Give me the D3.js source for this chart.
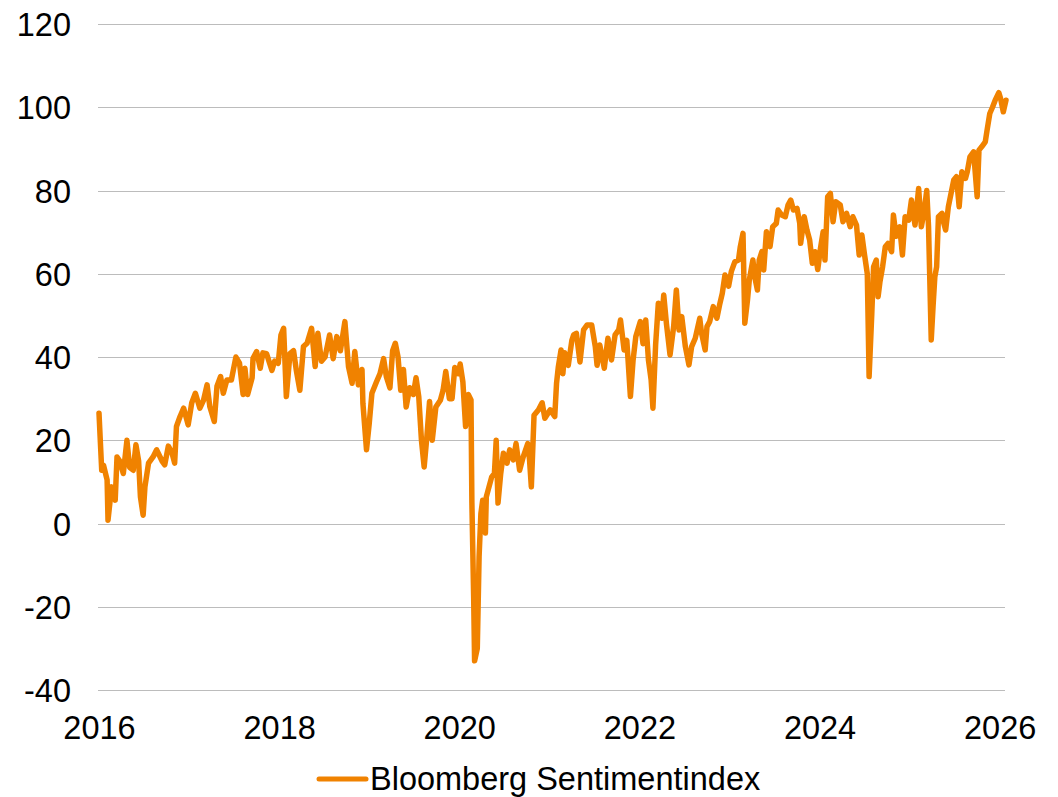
<!DOCTYPE html>
<html>
<head>
<meta charset="utf-8">
<script src="https://cdn.jsdelivr.net/npm/d3@7"></script>
<style>
  html, body { margin: 0; padding: 0; background: #fff; }
  svg { display: block; }
  text { font-family: "Liberation Sans", Arial, sans-serif; fill: #000; }
</style>
</head>
<body>
<svg id="chart" width="1058" height="797"></svg>
<script>
// Decimal-year dates and index values
const dates = [
  2016.00,2016.03,2016.05,2016.09,2016.10,2016.14,2016.18,2016.20,2016.23,2016.27,
  2016.31,2016.34,2016.38,2016.41,2016.44,2016.46,2016.49,2016.51,2016.55,2016.60,
  2016.64,2016.70,2016.73,2016.77,2016.81,2016.84,2016.86,2016.90,2016.94,2016.99,
  2017.03,2017.07,2017.12,2017.16,2017.20,2017.23,2017.28,2017.31,2017.35,2017.38,
  2017.42,2017.47,2017.52,2017.56,2017.60,2017.62,2017.65,2017.70,2017.71,2017.75,
  2017.79,2017.82,2017.86,2017.92,2017.95,2017.99,2018.02,2018.05,2018.08,2018.12,
  2018.16,2018.19,2018.23,2018.27,2018.31,2018.36,2018.40,2018.43,2018.47,2018.51,
  2018.56,2018.60,2018.64,2018.68,2018.73,2018.77,2018.81,2018.84,2018.88,2018.92,
  2018.93,2018.97,2019.00,2019.03,2019.08,2019.12,2019.16,2019.19,2019.23,2019.26,
  2019.29,2019.32,2019.35,2019.38,2019.41,2019.45,2019.49,2019.52,2019.55,2019.58,
  2019.61,2019.64,2019.67,2019.70,2019.74,2019.79,2019.82,2019.85,2019.89,2019.92,
  2019.95,2019.99,2020.01,2020.04,2020.07,2020.10,2020.13,2020.14,2020.16,2020.17,
  2020.20,2020.22,2020.24,2020.26,2020.29,2020.30,2020.33,2020.36,2020.39,2020.41,
  2020.43,2020.46,2020.49,2020.53,2020.56,2020.60,2020.63,2020.67,2020.71,2020.76,
  2020.78,2020.80,2020.83,2020.88,2020.92,2020.95,2021.01,2021.06,2021.08,2021.10,
  2021.13,2021.15,2021.17,2021.21,2021.25,2021.27,2021.30,2021.34,2021.38,2021.42,
  2021.47,2021.51,2021.53,2021.56,2021.61,2021.65,2021.69,2021.73,2021.77,2021.79,
  2021.83,2021.86,2021.90,2021.93,2021.96,2022.01,2022.04,2022.07,2022.10,2022.13,
  2022.15,2022.18,2022.21,2022.25,2022.27,2022.30,2022.34,2022.38,2022.41,2022.44,
  2022.47,2022.51,2022.55,2022.58,2022.62,2022.67,2022.69,2022.73,2022.75,2022.78,
  2022.82,2022.86,2022.89,2022.92,2022.95,2022.99,2023.02,2023.06,2023.10,2023.12,
  2023.15,2023.17,2023.20,2023.22,2023.26,2023.28,2023.31,2023.33,2023.36,2023.38,
  2023.41,2023.45,2023.48,2023.52,2023.54,2023.58,2023.62,2023.65,2023.68,2023.71,
  2023.75,2023.78,2023.79,2023.83,2023.86,2023.89,2023.92,2023.95,2023.98,2024.01,
  2024.04,2024.06,2024.09,2024.12,2024.15,2024.18,2024.23,2024.26,2024.30,2024.34,
  2024.37,2024.41,2024.44,2024.47,2024.50,2024.53,2024.55,2024.58,2024.60,2024.63,
  2024.65,2024.67,2024.70,2024.73,2024.76,2024.80,2024.82,2024.85,2024.89,2024.92,
  2024.95,2024.99,2025.02,2025.06,2025.10,2025.13,2025.16,2025.19,2025.21,2025.24,
  2025.26,2025.28,2025.30,2025.32,2025.36,2025.37,2025.40,2025.43,2025.46,2025.49,
  2025.52,2025.55,2025.58,2025.62,2025.64,2025.67,2025.71,2025.75,2025.77,2025.80,
  2025.84,2025.86,2025.89,2025.92,2025.95,2025.99,2026.01,2026.04,2026.07
];
const sentiment = [
  26.5,12.8,14.0,10.5,0.8,8.8,5.6,16.0,15.0,12.0,
  20.0,13.5,12.8,18.9,15.0,6.4,2.0,8.8,14.5,16.0,
  17.7,15.0,14.1,18.6,17.0,14.5,23.3,25.7,27.7,23.7,
  29.0,31.3,27.7,29.6,33.3,28.1,24.5,33.0,35.3,31.3,
  34.5,34.5,40.0,38.5,31.0,37.3,31.0,35.0,39.7,41.3,
  37.3,41.0,40.8,36.8,39.0,38.5,45.3,46.9,30.5,40.8,
  41.5,36.9,32.0,42.5,43.3,46.9,37.7,45.7,39.0,40.0,
  45.3,39.6,44.9,41.5,48.5,37.7,33.7,41.3,33.3,37.0,
  28.9,17.7,24.0,31.3,34.0,36.0,39.6,35.3,32.6,41.5,
  43.3,40.0,32.0,37.0,28.0,32.6,31.0,35.0,30.5,20.0,
  13.6,20.8,29.3,20.0,28.0,29.6,32.0,36.5,30.0,30.0,
  37.5,36.0,38.3,34.0,23.3,31.0,29.7,5.0,-18.0,-33.0,
  -30.0,-8.0,2.4,5.6,-2.3,6.4,8.8,11.2,12.0,20.0,
  4.9,12.0,16.9,14.5,17.7,15.3,19.2,12.8,16.0,19.2,
  15.3,8.8,26.0,27.3,29.0,25.3,27.3,25.7,33.7,37.7,
  41.7,36.0,41.0,38.0,44.0,45.3,45.7,38.8,46.5,47.7,
  47.7,42.5,38.0,42.9,37.3,44.5,39.3,45.3,46.5,48.9,
  41.7,44.0,30.5,39.3,44.9,48.5,43.2,48.9,39.3,34.5,
  27.7,43.0,52.9,49.3,54.9,48.0,40.5,47.3,56.1,46.5,
  49.7,42.5,38.1,42.5,44.5,49.3,45.7,41.7,47.3,48.5,
  52.1,49.3,52.5,55.3,59.7,57.0,60.5,62.9,63.3,66.5,
  69.7,48.1,53.7,58.5,63.3,59.3,56.1,63.3,65.3,60.9,
  70.1,66.5,71.3,72.1,75.3,74.1,73.7,76.5,77.7,75.3,
  75.7,72.1,67.3,73.7,70.5,68.1,62.5,65.3,61.0,66.1,
  70.1,63.3,78.5,79.3,72.5,77.3,76.5,72.5,74.5,71.3,
  73.7,71.7,64.5,69.3,64.5,60.0,35.3,50.5,61.7,63.3,
  54.5,58.0,61.7,66.5,67.3,65.3,74.1,69.0,71.3,64.5,
  73.7,72.9,77.7,71.7,80.5,71.3,74.9,80.0,71.3,44.1,
  52.1,59.3,61.7,73.7,74.5,72.9,70.5,76.1,79.3,82.5,
  83.3,76.1,84.5,82.9,84.5,88.1,89.3,78.5,89.7,90.5,
  91.7,94.5,98.5,100.0,101.7,103.5,102.1,98.9,101.7
];
const yTicks = [-40, -20, 0, 20, 40, 60, 80, 100, 120];
const xTicks = [2016, 2018, 2020, 2022, 2024, 2026];
const seriesName = "Bloomberg Sentimentindex";

(function () {
  const data = dates.map((d, i) => ({ t: d, v: sentiment[i] }));

  const svg = d3.select("#chart");
  const mLeft = 99, mRight = 1006, mTop = 24, mBottom = 690;
  const orange = "#F08200";
  const font = '"Liberation Sans", Arial, sans-serif';
  const fs = 32.5;

  const x = d3.scaleLinear().domain([2016, d3.max(dates)]).range([mLeft, mRight]);
  const y = d3.scaleLinear().domain([-40, 120]).range([mBottom, mTop]);

  // gridlines
  svg.append("g").selectAll("line").data(yTicks).join("line")
    .attr("x1", mLeft - 1).attr("x2", mRight - 1)
    .attr("y1", d => Math.round(y(d)) + 0.5).attr("y2", d => Math.round(y(d)) + 0.5)
    .attr("stroke", "#bcbcbc").attr("stroke-width", 1.2);

  // y axis labels (plain hyphen minus as in the reference)
  const yAxis = d3.axisLeft(y).tickValues(yTicks).tickSize(0).tickPadding(0).tickFormat(d => String(d));
  const gy = svg.append("g").attr("transform", "translate(71,0)").call(yAxis);
  gy.select(".domain").remove();
  gy.selectAll("text").attr("font-size", fs).attr("font-family", font)
    .attr("fill", "#000").attr("dy", "0.36em").attr("x", 0);

  // x axis labels
  const xAxis = d3.axisBottom(x).tickValues(xTicks).tickSize(0).tickPadding(0).tickFormat(d => String(d));
  const gx = svg.append("g").attr("transform", `translate(0,${mBottom})`).call(xAxis);
  gx.select(".domain").remove();
  gx.selectAll("text").attr("font-size", fs).attr("font-family", font)
    .attr("fill", "#000").attr("dy", null).attr("y", 49);

  // line
  const line = d3.line().x(d => x(d.t)).y(d => y(d.v));
  svg.append("path").datum(data)
    .attr("d", line)
    .attr("fill", "none")
    .attr("stroke", orange)
    .attr("stroke-width", 5.5)
    .attr("stroke-linejoin", "round")
    .attr("stroke-linecap", "round");

  // legend
  const lg = svg.append("g");
  lg.append("line").attr("x1", 319).attr("x2", 366).attr("y1", 779).attr("y2", 779)
    .attr("stroke", orange).attr("stroke-width", 5).attr("stroke-linecap", "round");
  lg.append("text").attr("x", 370).attr("y", 790).attr("font-size", fs)
    .attr("font-family", font).text(seriesName);
})();
</script>
</body>
</html>
